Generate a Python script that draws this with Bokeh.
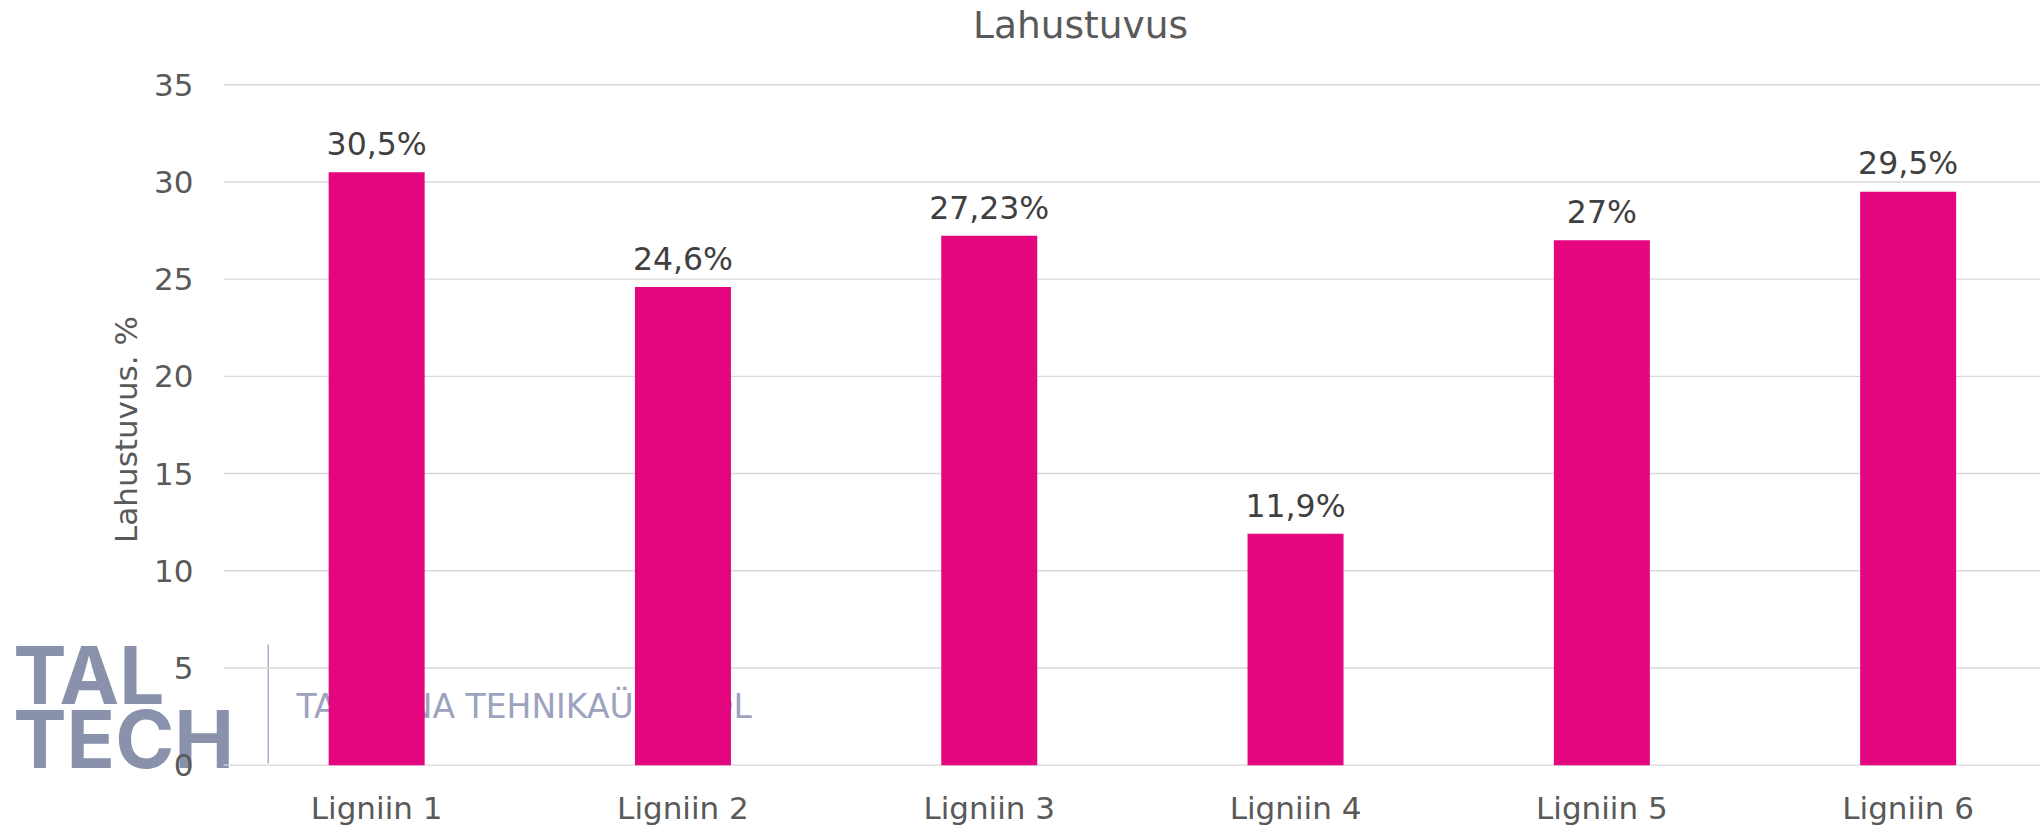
from bokeh.plotting import figure
from bokeh.models import (ColumnDataSource, FixedTicker, Label, Range1d, BoxAnnotation)
from bokeh.embed import file_html
from bokeh.resources import INLINE
from bokeh.core.properties import value

# ---------------- data ----------------
title_text = "Lahustuvus"
y_axis_title = "Lahustuvus. %"
categories = ["Ligniin 1", "Ligniin 2", "Ligniin 3", "Ligniin 4", "Ligniin 5", "Ligniin 6"]
solubility = [30.5, 24.6, 27.23, 11.9, 27, 29.5]
y_ticks = [0, 5, 10, 15, 20, 25, 30, 35]
logo_lines = ["TAL", "TECH"]
logo_caption = "TALLINNA TEHNIKAÜLIKOOL"

# ---------------- styling / layout ----------------
FONT = "DejaVu Sans"
BAR_COLOR = "#E3067E"
TEXT_GREY = "#595959"
LABEL_DARK = "#404040"
GRID_COLOR = "#D9D9D9"
LOGO_COLOR = "#8A92AB"
CAPTION_COLOR = "#9DA2BF"

W, H = 2040, 828
PLOT_L, FRAME_B = 223, 782                # plot area starts at x=223 px
ZERO_PX, TOP_PX = 767.6, 84.6             # pixel rows of value 0 and of the top tick
PX_PER_UNIT = (ZERO_PX - TOP_PX) / y_ticks[-1]
y_start = -(FRAME_B - ZERO_PX) / PX_PER_UNIT
y_end = y_ticks[-1] + TOP_PX / PX_PER_UNIT
CAT_PX = 306.3                            # pixel width of one category slot
x_start = -PLOT_L / CAT_PX                # room on the left for axis + logo
x_end = (W - PLOT_L) / CAT_PX             # chart is cut at the right edge
BASE_SHIFT = 0.325                        # em; alphabetic baseline correction

positions = [i + 0.5 for i in range(len(categories))]
label_text = [("%g" % v).replace(".", ",") + "%" for v in solubility]

src = ColumnDataSource(dict(x=positions, top=solubility, lab=label_text))
grid_src = ColumnDataSource(dict(y=y_ticks, x0=[0] * len(y_ticks), x1=[x_end] * len(y_ticks)))

p = figure(width=W, height=H, output_backend="svg", toolbar_location=None,
           x_range=Range1d(x_start, x_end), y_range=Range1d(y_start, y_end),
           min_border_left=0, min_border_right=0,
           min_border_top=0, min_border_bottom=H - FRAME_B,
           background_fill_color="white", border_fill_color="white")
p.outline_line_color = None
p.xgrid.visible = False
p.ygrid.visible = False
p.title.visible = False

# x axis (categories)
xax = p.xaxis[0]
xax.ticker = FixedTicker(ticks=positions)
xax.major_label_overrides = {pos: cat for pos, cat in zip(positions, categories)}
xax.axis_line_color = None
xax.major_tick_line_color = None
xax.minor_tick_line_color = None
xax.major_tick_out = 0
xax.major_tick_in = 0
xax.major_label_standoff = 10
xax.major_label_text_font = FONT
xax.major_label_text_font_size = "31px"
xax.major_label_text_color = TEXT_GREY

# y axis, pinned at the left edge of the plot area
yax = p.yaxis[0]
yax.fixed_location = 0
yax.bounds = (-0.5, y_ticks[-1])
yax.ticker = FixedTicker(ticks=y_ticks)
yax.axis_line_color = None
yax.major_tick_line_color = None
yax.minor_tick_line_color = None
yax.major_tick_out = 0
yax.major_tick_in = 0
yax.major_label_standoff = 30
yax.major_label_text_font = FONT
yax.major_label_text_font_size = "31px"
yax.major_label_text_color = TEXT_GREY
yax.axis_label = y_axis_title
yax.axis_label_text_font = FONT
yax.axis_label_text_font_size = "31px"
yax.axis_label_text_font_style = "normal"
yax.axis_label_text_color = TEXT_GREY
yax.axis_label_standoff = 7

# horizontal gridlines only across the plot area
p.segment(x0="x0", x1="x1", y0="y", y1="y", source=grid_src,
          line_color=GRID_COLOR, line_width=1.4)

# ---------------- title ----------------
p.add_layout(Label(x=1080, y=FRAME_B - 39.3 + BASE_SHIFT * 37.5,
                   x_units="screen", y_units="screen",
                   text=title_text, text_align="center", text_baseline="alphabetic",
                   text_font=FONT, text_font_size="37.5px", text_color=TEXT_GREY))

# ---------------- logo (watermark) ----------------
p.add_layout(Label(x=12.7, y=FRAME_B - 703 + BASE_SHIFT * 80, x_units="screen", y_units="screen",
                   text=logo_lines[0], text_font="Inter", text_font_style="bold",
                   text_font_size="80px", text_color=LOGO_COLOR,
                   text_baseline="alphabetic", level="underlay"))
p.add_layout(Label(x=12.7, y=FRAME_B - 767 + BASE_SHIFT * 80, x_units="screen", y_units="screen",
                   text=logo_lines[1], text_font="Inter", text_font_style="bold",
                   text_font_size="80px", text_color=LOGO_COLOR,
                   text_baseline="alphabetic", level="underlay"))
p.add_layout(BoxAnnotation(left=267, right=268.5, bottom=FRAME_B - 766, top=FRAME_B - 647,
                           left_units="screen", right_units="screen",
                           bottom_units="screen", top_units="screen",
                           fill_color="#A9AFC7", fill_alpha=1, line_color=None,
                           level="underlay"))
p.add_layout(Label(x=296, y=FRAME_B - 720 + BASE_SHIFT * 33, x_units="screen", y_units="screen",
                   text=logo_caption, text_font=FONT, text_font_size="33px",
                   text_color=CAPTION_COLOR, text_baseline="alphabetic", level="underlay"))

# ---------------- bars ----------------
p.vbar(x="x", top="top", width=96 / CAT_PX, bottom=0, source=src,
       fill_color=BAR_COLOR, line_color=None)

# value labels
p.text(x="x", y="top", text="lab", source=src, y_offset=-(18 + BASE_SHIFT * 31.5),
       text_align="center", text_baseline="alphabetic",
       text_font=value(FONT), text_font_size="31.5px", text_color=LABEL_DARK)

open("out.html", "w").write(file_html(p, INLINE))
